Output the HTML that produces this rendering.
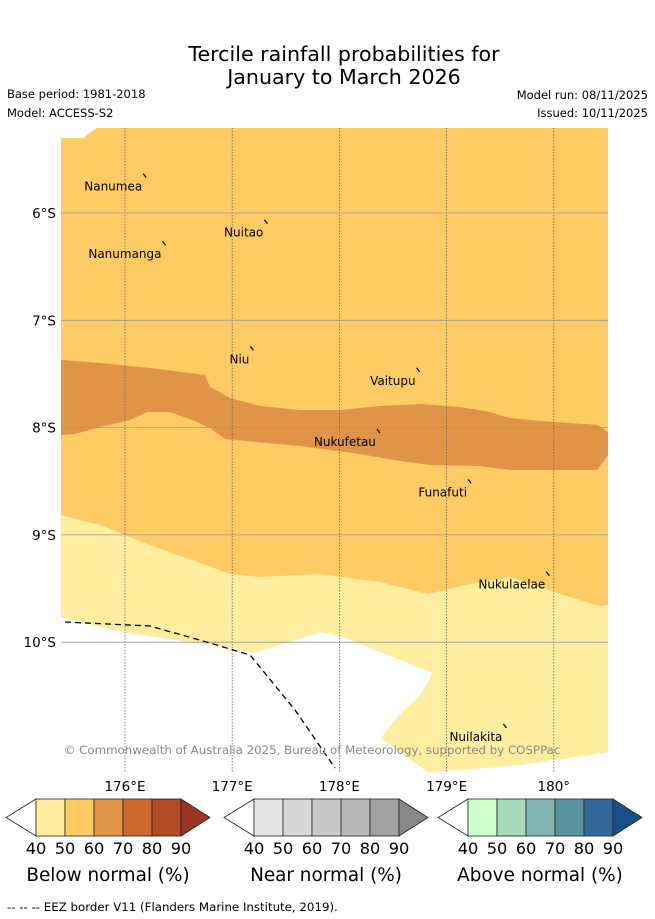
<!DOCTYPE html>
<html><head><meta charset="utf-8"><style>
body{margin:0;background:#fff;font-family:"DejaVu Sans","Liberation Sans",sans-serif}
svg{display:block}
</style></head><body>
<svg width="655" height="919" viewBox="0 0 655 919" font-family="DejaVu Sans, Liberation Sans, sans-serif">
<text x="344" y="61" text-anchor="middle" font-size="20.6">Tercile rainfall probabilities for</text>
<text x="344" y="84" text-anchor="middle" font-size="20.6">January to March 2026</text>
<text x="7" y="98" font-size="11.5">Base period: 1981-2018</text>
<text x="7" y="117" font-size="11.5">Model: ACCESS-S2</text>
<text x="648" y="99" font-size="11.5" text-anchor="end">Model run: 08/11/2025</text>
<text x="648" y="117" font-size="11.5" text-anchor="end">Issued: 10/11/2025</text>
<g>
<polygon fill="#fecb65" points="61,138 83,138 97,128 608,128 608,772 61,772"/>
<polygon fill="#e09447" points="61,360 100,363 150,368 205,375 210,387 230,398 260,406 300,410 340,410 380,406 420,404 460,407 490,412 510,418 540,421 598,425 608,432 608,455 597,470 510,470 480,466 430,465 400,461 360,454 300,446 225,439 210,428 195,421 170,412 147,412 130,420 100,427 75,434 61,435"/>
<polygon fill="#ffeea0" points="61,515 100,525 150,545 200,563 230,574 260,577 320,574 380,582 428,594 470,584 510,577 560,594 600,606 608,605 608,752 520,765 430,772 61,772"/>
<polygon fill="#ffffff" points="61,617 126,633 235,648 253,653 321,632 343,637 433,673 420,695 396,718 381,738 429,773 61,773"/>
<polygon fill="#ffffff" points="608,752 520,765 430,772 430,774 609,774"/>
</g>
<g id="grid" stroke="#666" stroke-width="0.8" stroke-dasharray="1.5,1.5" fill="none"></g>
<g id="labels" font-size="12"></g>
<polyline fill="none" stroke="#000" stroke-width="1.3" stroke-dasharray="6,4" points="65,622 150,626 210,643 250,655 295,710 335,768"/>
<text x="312" y="754" text-anchor="middle" font-size="11.8" fill="#888">© Commonwealth of Australia 2025, Bureau of Meteorology, supported by COSPPac</text>
<g id="axes" font-size="13.5"></g>
<g id="cbars"></g>
<text x="7" y="911" font-size="11.8">--  --  -- EEZ border V11 (Flanders Marine Institute, 2019).</text>
</svg>
<script>
const NS="http://www.w3.org/2000/svg";
const lonTicks=[176,177,178,179,180];
const lonLabels=["176°E","177°E","178°E","179°E","180°"];
const latTicks=[6,7,8,9,10];
const latLabels=["6°S","7°S","8°S","9°S","10°S"];
const islandNames=["Nanumea","Nuitao","Nanumanga","Niu","Vaitupu","Nukufetau","Funafuti","Nukulaelae","Nuilakita"];
const islandLon=[176.17,177.3,176.35,177.17,178.72,178.35,179.2,179.93,179.53];
const islandLat=[5.67,6.1,6.3,7.28,7.48,8.05,8.52,9.38,10.8];
const cbTicks=["40","50","60","70","80","90"];
const cbTitles=["Below normal (%)","Near normal (%)","Above normal (%)"];
const cbColors=[["#ffeea0","#fecb65","#e09447","#cf6733","#b24b26","#9b3521"],
["#e6e6e6","#d8d8d8","#c9c9c9","#b7b7b7","#a2a2a2","#888888"],
["#ccffcc","#a6dcbc","#82b8b1","#5a93a0","#336699","#164f86"]];
const cbX=[36,254,468];
const x=lon=>125+(lon-176)*107.2;
const y=lat=>213+(lat-6)*107.3;
function mk(t,a,p){const e=document.createElementNS(NS,t);for(const k in a)e.setAttribute(k,a[k]);p.appendChild(e);return e;}
const grid=document.getElementById('grid'),axes=document.getElementById('axes'),lab=document.getElementById('labels'),cb=document.getElementById('cbars');
lonTicks.forEach((v,i)=>{
 const l=mk('line',{x1:x(v),x2:x(v),y1:128,y2:772},grid);
 
 
 const t=mk('text',{x:x(v),y:791,'text-anchor':'middle'},axes);t.textContent=lonLabels[i];
 
 
});
latTicks.forEach((v,i)=>{
 const l=mk('line',{x1:61,x2:608,y1:y(v),y2:y(v),'stroke-dasharray':'none',stroke:'#999','stroke-width':'0.8'},grid);
 
 
 const t=mk('text',{x:56,y:y(v)+5,'text-anchor':'end'},axes);t.textContent=latLabels[i];
 
 
});
islandNames.forEach((n,i)=>{
 const px=x(islandLon[i]),py=y(islandLat[i]);
 const m=mk('line',{x1:px,y1:py-4,x2:px+3,y2:py,stroke:'#000','stroke-width':'1.2'},lab);
 
 
 const t=mk('text',{x:px-1,y:py+13,'text-anchor':'end'},lab);t.textContent=n;
 
 
});
cbX.forEach((bx,j)=>{
 const g=mk('g',{},cb);
 
 
 const w=29,top=799,bot=836,mid=817.5;
 mk('polygon',{points:`${bx},${top} ${bx-30},${mid} ${bx},${bot}`,fill:'#fff',stroke:'#222','stroke-width':'0.8'},g);
 for(let k=0;k<5;k++){const r=mk('rect',{x:bx+k*w,y:top,width:w,height:bot-top,fill:cbColors[j][k],stroke:'#222','stroke-width':'0.8'},g);
  
  }
 mk('polygon',{points:`${bx+5*w},${top} ${bx+5*w+29},${mid} ${bx+5*w},${bot}`,fill:cbColors[j][5],stroke:'#222','stroke-width':'0.8'},g);
 cbTicks.forEach((t,k)=>{const e=mk('text',{x:bx+k*w,y:854,'text-anchor':'middle','font-size':'16.2'},g);e.textContent=t;
  
  });
 const tt=mk('text',{x:bx+72,y:881,'text-anchor':'middle','font-size':'18.4'},g);tt.textContent=cbTitles[j];
 
 
});
</script>
</body></html>
